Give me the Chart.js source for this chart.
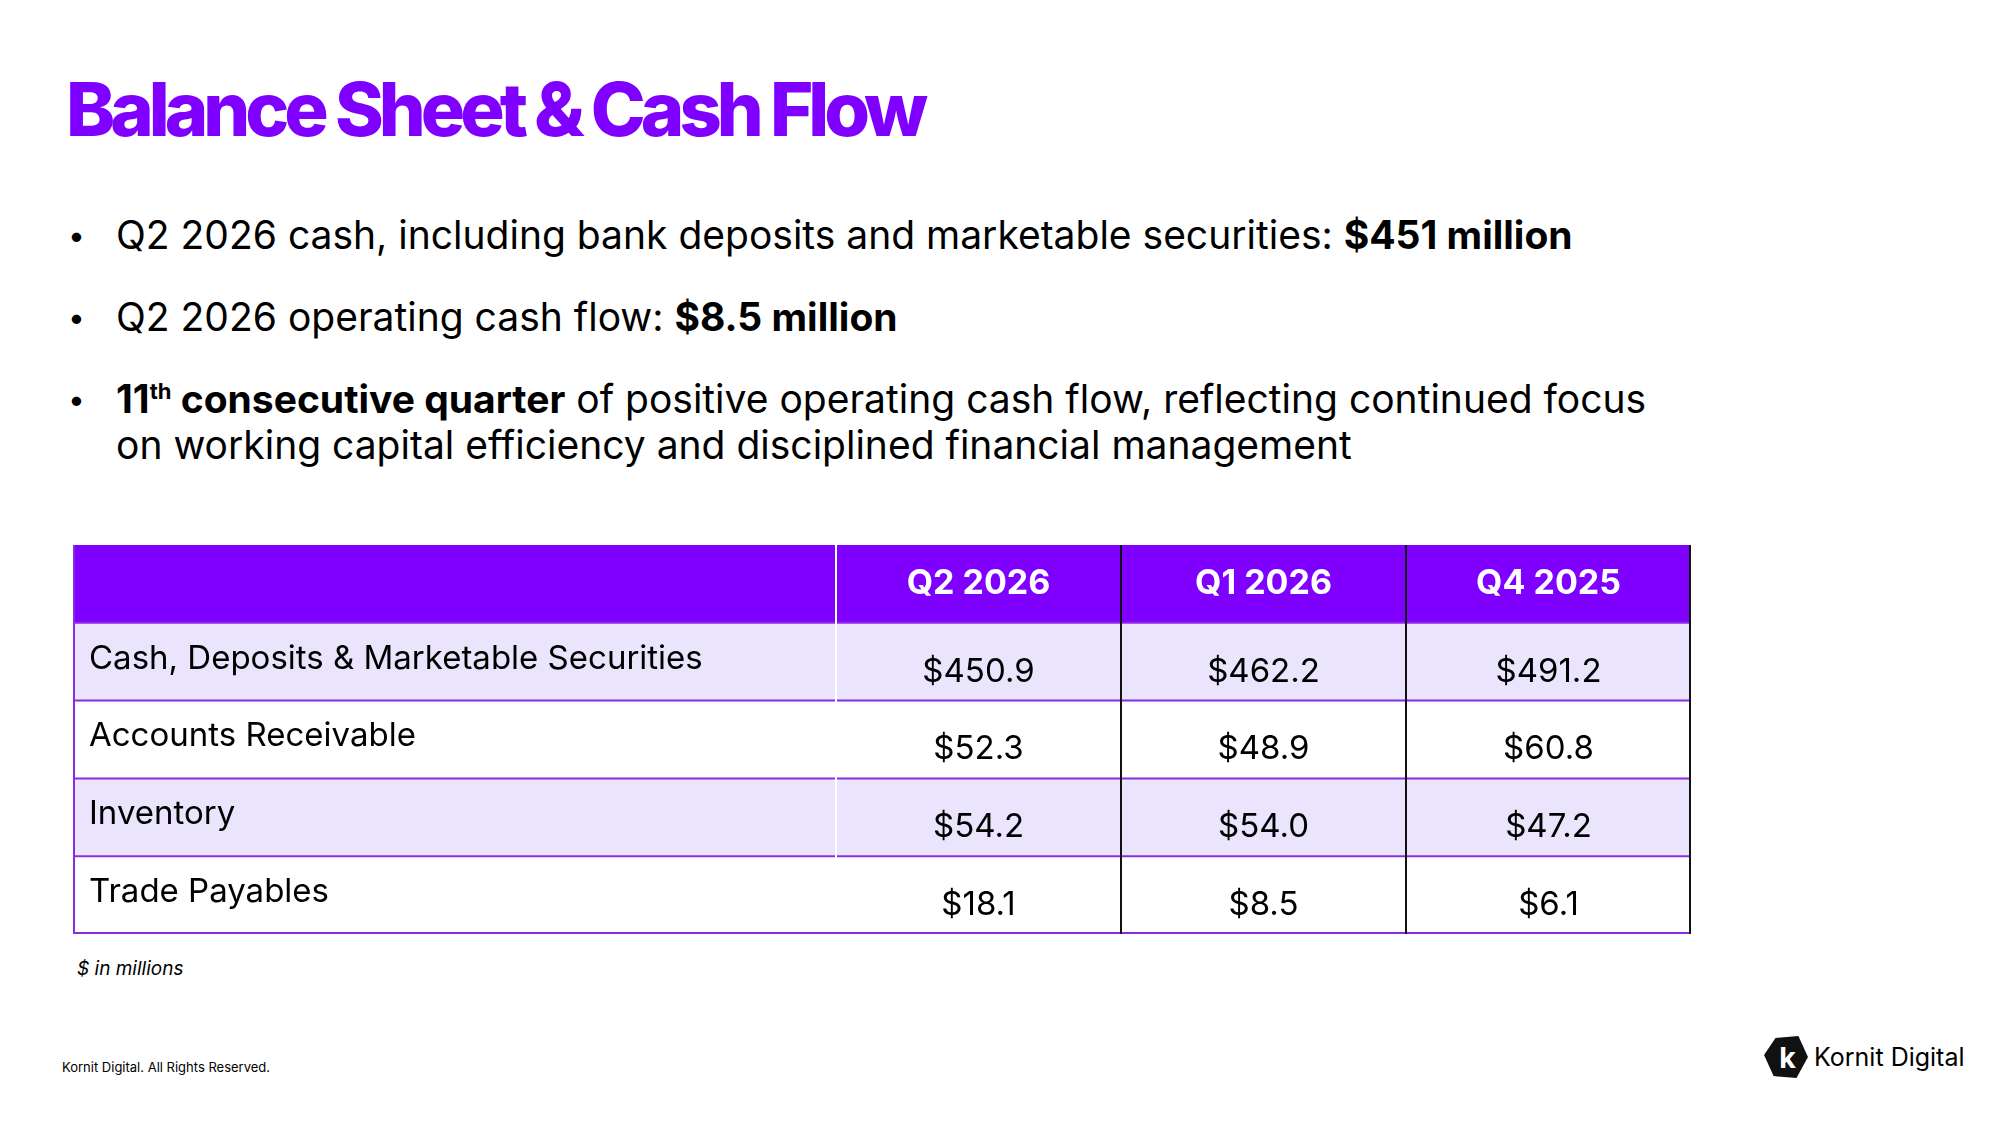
<!DOCTYPE html>
<html><head><meta charset="utf-8">
<script src="https://cdn.jsdelivr.net/npm/chart.js@4"></script>
<style>
body{margin:0;width:2000px;height:1125px;background:#fff;font-family:Inter,"Open Sans",sans-serif;position:relative;overflow:hidden;color:#000}
h1{position:absolute;left:66px;top:64px;margin:0;font-size:74px;font-weight:800;letter-spacing:-5px;color:#7F00FF}
ul{position:absolute;left:68px;top:212px;margin:0;padding:0;list-style:none;font-size:39px;line-height:46px}
li{position:relative;padding-left:48px;margin-bottom:36px}
li:before{content:"•";position:absolute;left:0;font-size:30px}
sup{font-size:22px;line-height:0}
#wrap{position:absolute;left:73px;top:545px;width:1618px;height:389px}
.note{position:absolute;left:77px;top:957px;font-size:19px;font-style:italic}
.foot{position:absolute;left:62px;top:1059px;font-size:13px}
.logo{position:absolute;left:1764px;top:1036px;display:flex;align-items:center;font-size:25px}
</style></head><body>
<h1>Balance Sheet &amp; Cash Flow</h1>
<ul>
<li>Q2 2026 cash, including bank deposits and marketable securities: <b>$451 million</b></li>
<li>Q2 2026 operating cash flow: <b>$8.5 million</b></li>
<li><b>11<sup>th</sup> consecutive quarter</b> of positive operating cash flow, reflecting continued focus<br>on working capital efficiency and disciplined financial management</li>
</ul>
<div id="wrap"><canvas id="c"></canvas></div>
<div class="note">$ in millions</div>
<div class="foot">Kornit Digital. All Rights Reserved.</div>
<div class="logo"><svg width="44" height="42" viewBox="0 0 46 44"><polygon points="12,2 36,0 46,22 34,44 10,42 0,20" fill="#111"/><text x="16" y="34" fill="#fff" font-size="30" font-weight="700" font-family="Inter">k</text></svg><span style="margin-left:6px">Kornit Digital</span></div>
<script>
const columns = ['', 'Q2 2026', 'Q1 2026', 'Q4 2025'];
const rowLabels = ['Cash, Deposits & Marketable Securities', 'Accounts Receivable', 'Inventory', 'Trade Payables'];
const q2_2026 = ['$450.9', '$52.3', '$54.2', '$18.1'];
const q1_2026 = ['$462.2', '$48.9', '$54.0', '$8.5'];
const q4_2025 = ['$491.2', '$60.8', '$47.2', '$6.1'];

const colW = [763, 285, 285, 285];
const colX = colW.reduce((a, w, i) => { a.push(a[i] + w); return a; }, [0]);
const total = colX[colX.length - 1];
const rows = ['header'].concat(rowLabels);
const fills = ['#7F00FF', '#EAE5FD', '#FFFFFF', '#EAE5FD', '#FFFFFF'];

const tablePlugin = {
  id: 'table',
  afterDatasetsDraw(chart) {
    const ctx = chart.ctx, x = chart.scales.x, y = chart.scales.y;
    const step = y.getPixelForValue(1) - y.getPixelForValue(0);
    const top = y.getPixelForValue(0) - step / 2;
    const bottom = top + step * rows.length;
    const L = x.getPixelForValue(0), R = x.getPixelForValue(total);
    ctx.save();
    ctx.lineWidth = 2;
    ctx.strokeStyle = '#8A2BE2';
    for (let i = 1; i <= rows.length; i++) {
      const yy = Math.min(top + step * i, bottom - 1);
      ctx.beginPath(); ctx.moveTo(L, yy); ctx.lineTo(R, yy); ctx.stroke();
    }
    ctx.strokeStyle = '#fff';
    ctx.beginPath(); ctx.moveTo(x.getPixelForValue(colX[1]), top); ctx.lineTo(x.getPixelForValue(colX[1]), bottom - 2); ctx.stroke();
    ctx.strokeStyle = '#111';
    [colX[2], colX[3]].forEach(v => { ctx.beginPath(); ctx.moveTo(x.getPixelForValue(v), top); ctx.lineTo(x.getPixelForValue(v), bottom); ctx.stroke(); });
    ctx.beginPath(); ctx.moveTo(R - 1, top); ctx.lineTo(R - 1, bottom); ctx.stroke();
    ctx.strokeStyle = '#8A2BE2';
    ctx.beginPath(); ctx.moveTo(L + 1, top); ctx.lineTo(L + 1, bottom); ctx.stroke();
    ctx.fillStyle = '#fff'; ctx.font = '700 34px Inter'; ctx.textAlign = 'center'; ctx.textBaseline = 'middle';
    for (let c = 1; c < columns.length; c++)
      ctx.fillText(columns[c], x.getPixelForValue((colX[c] + colX[c + 1]) / 2), y.getPixelForValue(0));
    const vals = [q2_2026, q1_2026, q4_2025];
    ctx.fillStyle = '#000'; ctx.font = '400 33px Inter';
    rowLabels.forEach((lab, r) => {
      const cy = y.getPixelForValue(r + 1);
      ctx.textAlign = 'left';
      ctx.fillText(lab, L + 16, cy - 3);
      ctx.textAlign = 'center';
      vals.forEach((s, c) => ctx.fillText(s[r], x.getPixelForValue((colX[c + 1] + colX[c + 2]) / 2), cy + 10));
    });
    ctx.restore();
  }
};

new Chart(document.getElementById('c'), {
  type: 'bar',
  data: {
    labels: rows,
    datasets: [{ data: rows.map(() => [0, total]), backgroundColor: fills, barPercentage: 1, categoryPercentage: 1, borderWidth: 0 }]
  },
  options: {
    indexAxis: 'y', responsive: true, maintainAspectRatio: false, animation: false,
    plugins: { legend: { display: false }, tooltip: { enabled: false } },
    layout: { padding: 0 },
    scales: {
      x: { type: 'linear', min: 0, max: total, display: false },
      y: { display: false }
    }
  },
  plugins: [tablePlugin]
});
</script>
</body></html>
